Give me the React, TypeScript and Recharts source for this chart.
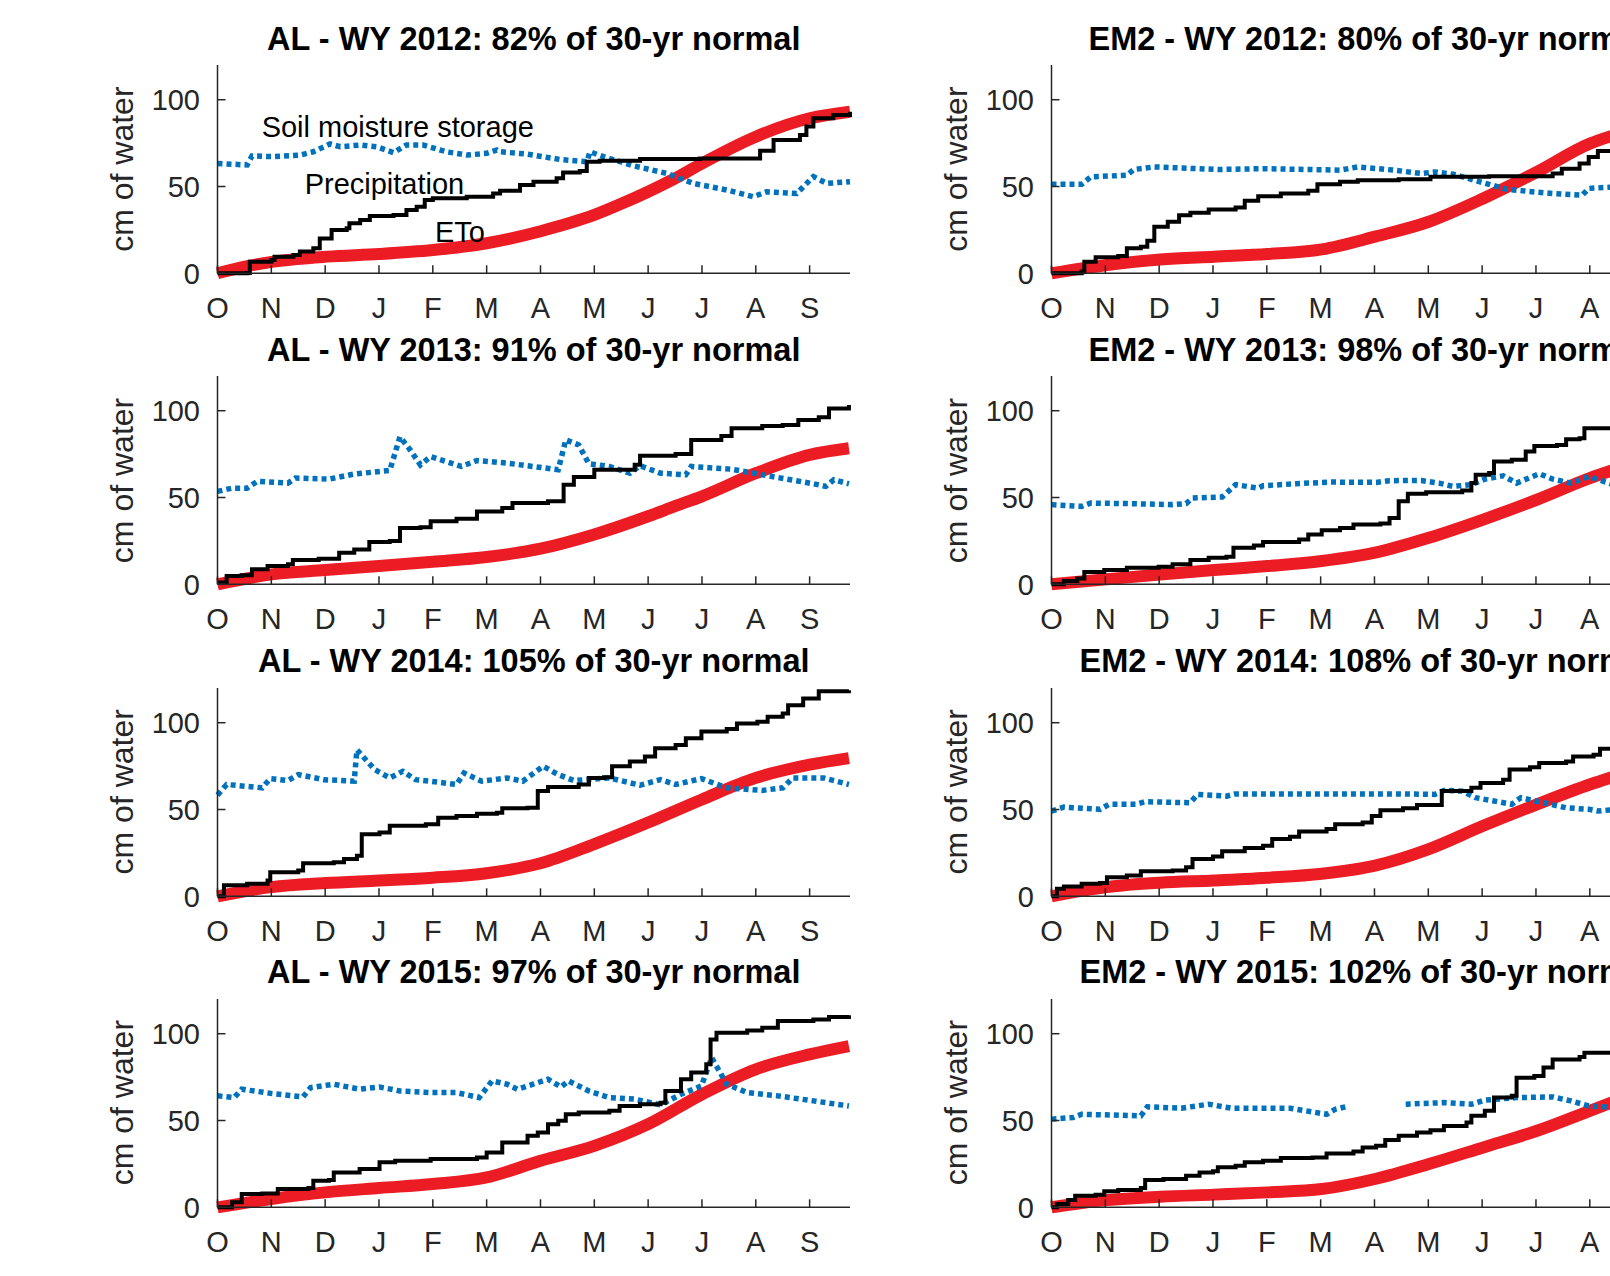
import React from 'react';
import { LineChart, Line, XAxis, YAxis, ReferenceDot } from 'recharts';

const monthLabels = ['O', 'N', 'D', 'J', 'F', 'M', 'A', 'M', 'J', 'J', 'A', 'S'];
const monthTicks = [0, 1, 2, 3, 4, 5, 6, 7, 8, 9, 10, 11];
const yTicks = [0, 50, 100];
const annotationLabels = ['Soil moisture storage', 'Precipitation', 'ETo'];
const annotationX = [0.82, 1.62, 4.04];
const annotationY = [84.3, 51.4, 23.8];

type Pt = [number, number | null];

// ---------- AL ----------
const alPrecip2012: Pt[] = [[0,0],[0.55,0.2],[0.6,6.7],[1.0,7.7],[1.06,9.6],[1.41,10.5],[1.53,12.5],[1.78,14.4],[1.9,20],[2.12,25],[2.4,26],[2.45,28.8],[2.65,30.7],[2.83,33],[3.27,33.6],[3.51,36.5],[3.7,38.4],[3.85,42.2],[4.0,43.2],[4.63,44.1],[5.12,46],[5.25,47.6],[5.62,50.9],[5.87,52.8],[6.3,54.7],[6.42,58],[6.73,59],[6.86,64.3],[7.1,64.9],[7.85,65.8],[8.96,66.2],[9.9,66.2],[10.08,70.6],[10.33,76.8],[10.82,79.7],[10.94,84.5],[11.07,89.3],[11.44,91.2],[11.75,93.1]];
const alEto2012: Pt[] = [[0,0],[0.6,4.4],[1.04,6.7],[2.03,9.6],[3.0,11.1],[4.0,13.4],[5.0,17.3],[6.02,24.4],[7.0,33.6],[7.5,40],[8.0,47],[8.5,54.7],[9.0,63.3],[10.0,78.7],[11.0,89.3],[11.75,93.1]];
const alSoil2012: Pt[] = [[0,63.3],[0.55,62.4],[0.64,67.6],[1.04,67.2],[1.53,68.1],[1.78,70],[2.09,74.5],[2.28,72.9],[2.65,73.9],[2.96,72.9],[3.27,69.5],[3.51,73.9],[3.82,73.9],[4.25,70],[4.63,68.1],[5.0,69.1],[5.19,71],[5.25,70],[5.74,68.7],[6.36,65.6],[6.86,64.3],[6.92,70],[7.17,67.2],[7.72,62],[8.34,57.6],[8.84,51.8],[9.46,48],[9.95,44.1],[10.2,47],[10.76,46],[11.07,55.7],[11.32,51.8],[11.75,52.8]];

const alPrecip2013: Pt[] = [[0,1],[0.17,4.8],[0.45,5.2],[0.64,8.6],[0.93,10.5],[1.31,11.5],[1.4,14],[1.88,14.7],[2.26,18.2],[2.54,20],[2.82,24.3],[3.2,24.9],[3.39,32.5],[3.77,32.9],[3.96,36.3],[4.44,37.7],[4.82,42],[5.29,44],[5.48,46.8],[6.14,47.8],[6.43,57.4],[6.62,61.8],[7.0,66],[7.75,68.8],[7.85,74],[8.51,75.1],[8.8,83.2],[9.36,85.5],[9.55,89.9],[10.12,91.2],[10.5,91.8],[10.79,94.6],[11.17,96.2],[11.36,101.3],[11.73,103.3]];
const alEto2013: Pt[] = [[0,0],[1,5.7],[2,8.2],[3,10.5],[4,13],[5,15.7],[6,20.5],[7,28.7],[8,39.2],[8.5,45],[9,50.7],[10,64],[11,74.6],[11.73,78.4]];
const alSoil2013: Pt[] = [[0,53.5],[0.27,55.4],[0.55,55.4],[0.74,59.3],[1.31,58.3],[1.45,61.2],[2.07,60.6],[2.54,63.5],[3.2,65.6],[3.39,85],[3.58,77.4],[3.77,68.8],[3.96,73.6],[4.53,67.9],[4.82,71.3],[5.38,69.8],[6.33,66],[6.47,83.2],[6.71,80.3],[6.9,69.4],[7.28,67.9],[7.66,64],[7.85,68.3],[8.23,64],[8.7,63.1],[8.8,67.9],[9.55,66.3],[10.12,63.1],[11.07,57.9],[11.3,56.4],[11.45,60.2],[11.73,57.9]];

const alPrecip2014: Pt[] = [[0,0],[0.12,6.3],[0.55,7.2],[0.93,9.1],[0.98,13.9],[1.5,14.9],[1.59,19],[2.16,19.6],[2.35,21.5],[2.59,23.4],[2.68,35.8],[3.01,36.8],[3.2,40.6],[3.87,41.5],[4.1,45.3],[4.44,46.3],[4.82,47.6],[5.19,48.2],[5.29,50.7],[5.76,51],[5.95,60.6],[6.14,62.9],[6.71,64.4],[6.9,68.2],[7.18,68.6],[7.33,74.9],[7.66,77.7],[7.94,80.6],[8.13,85.3],[8.51,87.2],[8.7,91],[8.99,94.9],[9.46,96.4],[9.65,99.6],[10.03,100.6],[10.22,103.4],[10.5,105.3],[10.6,110.1],[10.88,113.9],[11.17,118.1],[11.73,118.7]];
const alEto2014: Pt[] = [[0,0],[1,5.3],[2,7.6],[3,9.1],[4,10.7],[5,13.3],[6,19],[7,30.1],[8,42.5],[9,55.8],[10,68.2],[11,75.8],[11.73,79.6]];
const alSoil2014: Pt[] = [[0,58.3],[0.17,64.4],[0.83,62.5],[0.98,67.8],[1.31,66.7],[1.5,70.1],[1.97,67.2],[2.54,66.3],[2.59,84.4],[2.92,73],[3.2,68.2],[3.44,72],[3.68,67.2],[3.96,66.3],[4.44,64.4],[4.58,71],[4.91,66.3],[5.38,68.2],[5.67,66.3],[6.05,74.9],[6.33,70.1],[6.62,66.7],[7.28,68.2],[7.85,64],[8.23,67.2],[8.51,64.4],[8.99,67.8],[9.46,62.5],[10.12,61],[10.5,62.5],[10.69,68.2],[11.26,68.2],[11.73,64.4]];

const alPrecip2015: Pt[] = [[0,0],[0.27,2.9],[0.45,7.7],[0.83,8],[1.12,10.5],[1.69,11.1],[1.78,15.3],[2.07,15.7],[2.16,20.1],[2.64,22],[3.01,25.9],[3.3,26.8],[3.96,27.8],[4.82,28.7],[5.0,31.6],[5.29,37.4],[5.57,37.4],[5.76,41.2],[5.95,43.1],[6.14,47.9],[6.33,49.8],[6.47,53.6],[6.71,54.6],[7.28,55.6],[7.47,58.4],[7.85,59.4],[8.23,60.3],[8.32,67],[8.61,73.8],[8.8,77.6],[9.08,82.4],[9.16,96.7],[9.27,100.6],[9.84,101.9],[10.12,103.4],[10.41,107.3],[11.07,108.2],[11.36,109.6],[11.73,110.7]];
const alEto2015: Pt[] = [[0,0],[1,4.8],[2,8.6],[3,11.1],[4,13.4],[5,17.2],[6,26.8],[7,35.4],[8,47.9],[9,65.1],[10,79.5],[11,88.1],[11.73,92.9]];
const alSoil2015: Pt[] = [[0,64.2],[0.31,63.2],[0.45,68],[1.02,65.5],[1.59,63.6],[1.73,69],[2.16,70.9],[2.64,68],[3.01,69.3],[3.39,67],[3.96,66.1],[4.44,66.1],[4.86,63.2],[5.1,72.8],[5.38,70.9],[5.57,68],[5.86,70.9],[6.14,73.8],[6.38,69.3],[6.52,72.8],[6.9,67],[7.28,63.2],[7.75,62.3],[8.23,59],[8.61,65.1],[8.99,69.9],[9.18,86.2],[9.46,70.9],[9.84,66.1],[10.41,64.2],[11.07,61.3],[11.73,58.4]];

// ---------- EM2 ----------
const emPrecip2012: Pt[] = [[0,0],[0.56,1],[0.61,6.7],[0.82,9.2],[1.24,10],[1.4,14.4],[1.66,15.3],[1.78,18.8],[1.91,26.8],[2.16,29.7],[2.37,33.5],[2.58,34.9],[2.92,36.8],[3.42,37.9],[3.59,41.8],[3.84,44.4],[4.26,46],[4.77,47.5],[4.94,51.3],[5.36,52.7],[5.69,53.6],[6.45,54.2],[7.04,55.6],[8.13,55.9],[9.31,57.5],[9.48,60.3],[9.81,63.2],[9.98,67],[10.15,70.5],[10.5,71.3]];
const emEto2012: Pt[] = [[0,0],[1.03,4.8],[2.02,8],[3.02,9.6],[4.01,11.1],[5.02,13.8],[6.01,21.1],[7.01,29.7],[8.02,43.1],[9.02,58.4],[10,74.7],[10.5,80]];
const emSoil2012: Pt[] = [[0,51.3],[0.56,51.3],[0.73,55.6],[1.4,56.5],[1.53,59.8],[1.91,61.3],[3.09,59.8],[3.93,60.3],[4.77,59.8],[5.36,59.4],[5.69,61.3],[6.37,59.4],[6.87,57.5],[7.12,58.4],[7.46,57.1],[7.96,52.7],[8.47,48.3],[8.97,46.9],[9.31,46],[9.86,45],[9.98,48.9],[10.5,49.8]];

const emPrecip2013: Pt[] = [[0,0],[0.23,1.9],[0.48,3.3],[0.61,7.1],[0.98,8.2],[1.4,9.6],[1.99,10.1],[2.25,11.5],[2.58,14],[2.92,15.3],[3.25,15.9],[3.38,21],[3.76,22.4],[3.93,24.3],[4.6,25.8],[4.77,28.7],[5.02,31.2],[5.36,32.5],[5.61,34.4],[6.11,35],[6.28,38.2],[6.45,47.8],[6.62,52.2],[6.96,53],[7.63,54.1],[7.8,58.3],[7.88,63.1],[8.13,64.1],[8.22,70.7],[8.55,71.7],[8.81,76.5],[8.97,79.7],[9.39,80.3],[9.56,83.6],[9.81,84.1],[9.9,89.9],[10.5,90.4]];
const emEto2013: Pt[] = [[0,0],[1.03,2.9],[2.02,5.7],[3.02,8.2],[4.01,10.5],[5.02,13.4],[6.01,18.2],[7.01,26.8],[8.02,37.3],[9.02,48.8],[10,61.2],[10.5,66.5]];
const emSoil2013: Pt[] = [[0,45.9],[0.56,44.9],[0.73,46.8],[1.4,46.5],[2.25,45.9],[2.5,46.5],[2.62,49.7],[3.17,50.3],[3.42,57.4],[3.84,55.4],[3.93,56.8],[4.77,58.3],[5.19,58.9],[6.03,58.7],[6.28,59.7],[6.87,59.8],[7.2,58.3],[7.46,56.4],[7.8,57.4],[8.05,60.6],[8.39,62.5],[8.64,58.3],[9.06,63.7],[9.31,60.6],[9.65,58.3],[9.98,62.1],[10.5,56.8]];

const emPrecip2014: Pt[] = [[0,0],[0.1,4.4],[0.23,5.7],[0.56,7.2],[0.9,7.6],[1.03,11],[1.4,12],[1.66,14.5],[2.25,14.9],[2.5,16.8],[2.62,21.5],[3.0,22.9],[3.17,25.9],[3.59,27.8],[3.93,29.1],[4.1,33],[4.43,34.3],[4.6,37.3],[5.11,38.7],[5.27,41.5],[5.78,42.5],[5.95,46.3],[6.11,49.5],[6.53,50.7],[6.79,52.6],[7.12,52.6],[7.25,60.6],[7.8,62.5],[7.97,65.3],[8.39,67.2],[8.51,73],[8.89,74.3],[9.06,76.8],[9.56,77.7],[9.69,80.6],[10.07,81.5],[10.19,85],[10.5,85]];
const emEto2014: Pt[] = [[0,0],[1.03,5.3],[2.02,7.8],[3.02,9.1],[4.01,10.7],[5.02,13],[6.01,17.7],[7.01,27.2],[8.02,40.6],[9.02,53],[10,64.4],[10.5,69.5]];
const emSoil2014: Pt[] = [[0,49.1],[0.23,51.4],[0.9,50.1],[1.07,53],[1.57,53],[1.74,54.5],[2.58,53.9],[2.71,58.7],[3.25,57.7],[3.42,59],[4.77,59],[6.45,59],[7.12,58.7],[7.29,61],[7.63,60.6],[7.88,56.8],[8.22,54.9],[8.55,53],[8.72,56.8],[9.14,53.9],[9.56,51],[9.98,50.1],[10.15,49.1],[10.5,50.1]];

const emPrecip2015: Pt[] = [[0,0],[0.1,1.9],[0.31,4.2],[0.44,6.7],[0.82,7.3],[0.98,9.2],[1.24,10],[1.66,11.1],[1.74,15.7],[2.08,16.3],[2.5,18.2],[2.75,20.1],[3.0,20.7],[3.09,23],[3.42,23.9],[3.59,25.9],[3.93,26.8],[4.26,28.4],[4.85,28.7],[5.11,31],[5.61,32.2],[5.78,34.5],[6.03,35.4],[6.2,38.7],[6.45,41.2],[6.79,43.1],[7.04,44.4],[7.29,46.9],[7.71,48.9],[7.8,52.7],[8.05,55.6],[8.22,63.2],[8.55,64.2],[8.64,74.7],[8.97,75.7],[9.14,80.5],[9.31,85.2],[9.81,86.6],[9.9,89.1],[10.5,91]];
const emEto2015: Pt[] = [[0,0],[1.03,4.2],[2.02,6.1],[3.02,7.3],[4.01,8.6],[5.02,10.5],[6.01,16.3],[7.01,24.9],[8.02,34.5],[9.02,44.1],[10,55.6],[10.5,61.5]];
const emSoil2015: Pt[] = [[0,50.8],[0.4,51.7],[0.56,53.6],[1.66,52.7],[1.78,57.9],[2.41,57.1],[2.92,59.4],[3.34,57.1],[4.43,57.1],[5.11,53.6],[5.27,56.5],[5.53,58.4],[5.54,null],[6.57,null],[6.58,59.4],[7.29,60.3],[7.8,59.4],[8.05,61.7],[8.64,63.2],[9.31,63.6],[9.65,61.3],[9.98,58.4],[10.5,57.5]];

const leftTitles = [
  'AL - WY 2012: 82% of 30-yr normal',
  'AL - WY 2013: 91% of 30-yr normal',
  'AL - WY 2014: 105% of 30-yr normal',
  'AL - WY 2015: 97% of 30-yr normal',
];
const rightTitles = [
  'EM2 - WY 2012: 80% of 30-yr normal',
  'EM2 - WY 2013: 98% of 30-yr normal',
  'EM2 - WY 2014: 108% of 30-yr normal',
  'EM2 - WY 2015: 102% of 30-yr normal',
];
const yLabel = 'cm of water';

const leftPanels = [
  { precip: alPrecip2012, eto: alEto2012, soil: alSoil2012 },
  { precip: alPrecip2013, eto: alEto2013, soil: alSoil2013 },
  { precip: alPrecip2014, eto: alEto2014, soil: alSoil2014 },
  { precip: alPrecip2015, eto: alEto2015, soil: alSoil2015 },
];
const rightPanels = [
  { precip: emPrecip2012, eto: emEto2012, soil: emSoil2012 },
  { precip: emPrecip2013, eto: emEto2013, soil: emSoil2013 },
  { precip: emPrecip2014, eto: emEto2014, soil: emSoil2014 },
  { precip: emPrecip2015, eto: emEto2015, soil: emSoil2015 },
];

// ---------- layout ----------
const FONT = '"Liberation Sans", Arial, Helvetica, sans-serif';
const AXIS = '#262626';
const ROW_TOPS = [65, 376.3, 687.6, 998.5];
const COL_LEFTS = [0, 833.5];
const CHART_W = 900;
const PLOT_LEFT = 217.5;
const PLOT_RIGHT = 850;
const TITLE_SPACE = 70;
const PLOT_H = 208.3;
const BOTTOM_SPACE = 60;
const X_AXIS_H = 40;
const Y_AXIS_W = 60;

const toRows = (pts: Pt[]) => pts.map(([m, v]) => ({ m, v }));

type PanelProps = {
  left: number;
  top: number;
  precip: Pt[];
  eto: Pt[];
  soil: Pt[];
  annotate: boolean;
};

function Panel({ left, top, precip, eto, soil, annotate }: PanelProps) {
  const chartH = TITLE_SPACE + PLOT_H + BOTTOM_SPACE;
  const axisLine = { stroke: AXIS, strokeWidth: 1.5 };
  return (
    <div style={{ position: 'absolute', left, top: top - TITLE_SPACE, width: CHART_W, height: chartH }}>
      <LineChart
        width={CHART_W}
        height={chartH}
        margin={{
          top: TITLE_SPACE,
          right: CHART_W - PLOT_RIGHT,
          bottom: BOTTOM_SPACE - X_AXIS_H,
          left: PLOT_LEFT - Y_AXIS_W,
        }}
      >
        <XAxis
          xAxisId={0}
          dataKey="m"
          type="number"
          domain={[0, 11.75]}
          ticks={monthTicks}
          interval={0}
          height={X_AXIS_H}
          tickSize={-8}
          tickMargin={32}
          axisLine={axisLine}
          tickLine={axisLine}
          tickFormatter={(i: number) => monthLabels[i]}
          tick={{ fontSize: 29, fill: AXIS, fontFamily: FONT }}
        />
        <XAxis
          xAxisId="top"
          orientation="top"
          dataKey="m"
          type="number"
          domain={[0, 11.75]}
          allowDataOverflow
          ticks={monthTicks}
          interval={0}
          height={0}
          tickSize={-8}
          axisLine={axisLine}
          tickLine={axisLine}
          tick={false}
        />
        <YAxis
          yAxisId={0}
          type="number"
          domain={[0, 120]}
          ticks={yTicks}
          interval={0}
          width={Y_AXIS_W}
          tickSize={-8}
          tickMargin={25.5}
          axisLine={axisLine}
          tickLine={axisLine}
          tick={{ fontSize: 29, fill: AXIS, fontFamily: FONT }}
        />
        <YAxis
          yAxisId="right"
          orientation="right"
          type="number"
          domain={[0, 120]}
          allowDataOverflow
          ticks={yTicks}
          interval={0}
          width={0}
          tickSize={-8}
          axisLine={axisLine}
          tickLine={axisLine}
          tick={false}
        />
        <Line
          data={toRows(eto)}
          dataKey="v"
          type="monotone"
          stroke="#EC1C24"
          strokeWidth={12}
          dot={false}
          activeDot={false}
          isAnimationActive={false}
        />
        <Line
          data={toRows(soil)}
          dataKey="v"
          type="linear"
          stroke="#0072BD"
          strokeWidth={5.5}
          strokeDasharray="5 4"
          dot={false}
          activeDot={false}
          isAnimationActive={false}
        />
        <Line
          data={toRows(precip)}
          dataKey="v"
          type="stepAfter"
          stroke="#000000"
          strokeWidth={4}
          dot={false}
          activeDot={false}
          isAnimationActive={false}
        />
        {annotate &&
          annotationLabels.map((label, i) => (
            <ReferenceDot
              key={label}
              x={annotationX[i]}
              y={annotationY[i]}
              r={0}
              fill="none"
              stroke="none"
              label={{ value: label, position: 'right', offset: 0, fontSize: 29, fill: '#000', fontFamily: FONT }}
            />
          ))}
      </LineChart>
    </div>
  );
}

export default function App() {
  const cols = [
    { left: COL_LEFTS[0], titles: leftTitles, panels: leftPanels },
    { left: COL_LEFTS[1], titles: rightTitles, panels: rightPanels },
  ];
  return (
    <div
      style={{
        position: 'absolute',
        left: 0,
        top: 0,
        width: 1610,
        height: 1276,
        overflow: 'hidden',
        background: '#fff',
        fontFamily: FONT,
      }}
    >
      {cols.map((c, ci) =>
        c.panels.map((p, ri) => (
          <Panel
            key={`${ci}-${ri}`}
            left={c.left}
            top={ROW_TOPS[ri]}
            precip={p.precip}
            eto={p.eto}
            soil={p.soil}
            annotate={ci === 0 && ri === 0}
          />
        ))
      )}
      <svg
        width={1610}
        height={1276}
        style={{ position: 'absolute', left: 0, top: 0, pointerEvents: 'none' }}
      >
        {cols.map((c, ci) =>
          c.titles.map((t, ri) => (
            <g key={`t-${ci}-${ri}`}>
              <text
                x={c.left + (PLOT_LEFT + PLOT_RIGHT) / 2}
                y={ROW_TOPS[ri] - 15.5}
                textAnchor="middle"
                fontFamily={FONT}
                fontWeight="bold"
                fontSize={32.5}
                fill="#000"
              >
                {t}
              </text>
              <text
                transform={`translate(${c.left + 133}, ${ROW_TOPS[ri] + PLOT_H / 2}) rotate(-90)`}
                textAnchor="middle"
                fontFamily={FONT}
                fontSize={32}
                fill={AXIS}
              >
                {yLabel}
              </text>
            </g>
          ))
        )}
      </svg>
    </div>
  );
}
